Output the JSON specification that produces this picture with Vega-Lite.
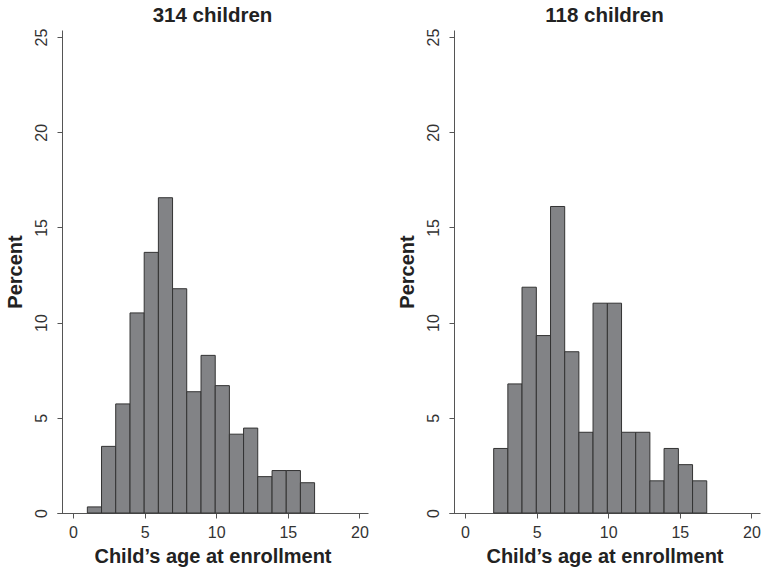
{
  "$schema": "https://vega.github.io/schema/vega-lite/v6.json",
  "background": "white",
  "padding": {"left": 5, "top": 5, "right": 5, "bottom": 5},
  "spacing": 28,
  "config": {
    "font": "Liberation Sans",
    "view": {"stroke": null},
    "title": {"fontSize": 20.5, "fontWeight": "bold", "color": "#222222", "offset": 2},
    "axis": {
      "domainColor": "#555555",
      "tickColor": "#555555",
      "labelColor": "#333333",
      "titleColor": "#222222",
      "labelFontSize": 16,
      "titleFontSize": 20,
      "titleFontWeight": "bold",
      "grid": false,
      "tickSize": 5
    }
  },
  "datasets": {
    "a": [
      {"s": 1.0, "e": 1.99, "pct": 0.32},
      {"s": 1.99, "e": 2.98, "pct": 3.50},
      {"s": 2.98, "e": 3.98, "pct": 5.73},
      {"s": 3.98, "e": 4.97, "pct": 10.51},
      {"s": 4.97, "e": 5.96, "pct": 13.69},
      {"s": 5.96, "e": 6.95, "pct": 16.56},
      {"s": 6.95, "e": 7.94, "pct": 11.78},
      {"s": 7.94, "e": 8.94, "pct": 6.37},
      {"s": 8.94, "e": 9.93, "pct": 8.28},
      {"s": 9.93, "e": 10.92, "pct": 6.69},
      {"s": 10.92, "e": 11.91, "pct": 4.14},
      {"s": 11.91, "e": 12.9, "pct": 4.46},
      {"s": 12.9, "e": 13.9, "pct": 1.91},
      {"s": 13.9, "e": 14.89, "pct": 2.23},
      {"s": 14.89, "e": 15.88, "pct": 2.23},
      {"s": 15.88, "e": 16.87, "pct": 1.59}
    ],
    "b": [
      {"s": 2.0, "e": 2.99, "pct": 3.39},
      {"s": 2.99, "e": 3.98, "pct": 6.78},
      {"s": 3.98, "e": 4.98, "pct": 11.86},
      {"s": 4.98, "e": 5.97, "pct": 9.32},
      {"s": 5.97, "e": 6.96, "pct": 16.10},
      {"s": 6.96, "e": 7.95, "pct": 8.47},
      {"s": 7.95, "e": 8.94, "pct": 4.24},
      {"s": 8.94, "e": 9.94, "pct": 11.02},
      {"s": 9.94, "e": 10.93, "pct": 11.02},
      {"s": 10.93, "e": 11.92, "pct": 4.24},
      {"s": 11.92, "e": 12.91, "pct": 4.24},
      {"s": 12.91, "e": 13.9, "pct": 1.69},
      {"s": 13.9, "e": 14.9, "pct": 3.39},
      {"s": 14.9, "e": 15.89, "pct": 2.54},
      {"s": 15.89, "e": 16.88, "pct": 1.69}
    ]
  },
  "hconcat": [
    {
      "title": "314 children",
      "width": 311,
      "height": 483,
      "data": {"name": "a"},
      "mark": {"type": "rect", "fill": "#828386", "stroke": "#333333", "strokeWidth": 1},
      "encoding": {
        "x": {"field": "s", "type": "quantitative", "scale": {"domain": [-1.12, 20.6], "nice": false, "zero": false},
              "axis": {"values": [0, 5, 10, 15, 20], "title": "Child’s age at enrollment", "labelPadding": 6, "titlePadding": 6}},
        "x2": {"field": "e"},
        "y": {"field": "pct", "type": "quantitative", "scale": {"domain": [0, 25.37], "nice": false},
              "axis": {"values": [0, 5, 10, 15, 20, 25], "title": "Percent", "labelAngle": -90, "labelAlign": "center", "labelBaseline": "bottom", "labelPadding": 8, "titlePadding": 8, "offset": -5}},
        "y2": {"datum": 0}
      }
    },
    {
      "title": "118 children",
      "width": 311,
      "height": 483,
      "data": {"name": "b"},
      "mark": {"type": "rect", "fill": "#828386", "stroke": "#333333", "strokeWidth": 1},
      "encoding": {
        "x": {"field": "s", "type": "quantitative", "scale": {"domain": [-1.12, 20.6], "nice": false, "zero": false},
              "axis": {"values": [0, 5, 10, 15, 20], "title": "Child’s age at enrollment", "labelPadding": 6, "titlePadding": 6}},
        "x2": {"field": "e"},
        "y": {"field": "pct", "type": "quantitative", "scale": {"domain": [0, 25.37], "nice": false},
              "axis": {"values": [0, 5, 10, 15, 20, 25], "title": "Percent", "labelAngle": -90, "labelAlign": "center", "labelBaseline": "bottom", "labelPadding": 8, "titlePadding": 8, "offset": -5}},
        "y2": {"datum": 0}
      }
    }
  ]
}
